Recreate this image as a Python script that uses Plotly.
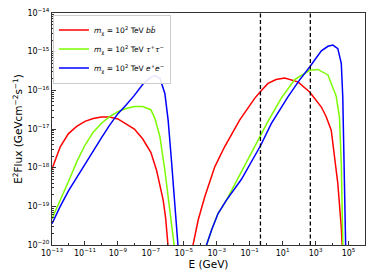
import plotly.graph_objects as go

# ---------------- data ----------------
# low-energy bump, b b-bar
red_lo_E = [1e-13, 3.16e-13, 1e-12, 3.16e-12, 1e-11, 3.16e-11, 1e-10, 3.16e-10, 1e-9,
            3.16e-9, 1e-8, 3.16e-8, 1e-7, 2.24e-7, 5.6e-7, 7.9e-7, 1.12e-6, 1.26e-6]
red_lo_F = [9.3e-19, 3.47e-18, 7.6e-18, 1.17e-17, 1.58e-17, 1.86e-17, 2.04e-17, 2.04e-17, 1.82e-17,
            1.35e-17, 1.0e-17, 5.6e-18, 2.5e-18, 8.5e-19, 1.45e-19, 5.0e-20, 1.0e-20, 5.0e-21]
# high-energy bump, b b-bar
red_hi_E = [3.2e-5, 3.63e-5, 7.4e-5, 1.86e-4, 7.6e-4, 3.0e-3, 2.45e-2, 0.2, 0.47, 1.29, 3.98, 13.2,
            85.0, 437.0, 2240.0, 4470.0, 8900.0, 1.12e4, 2.24e4, 3.63e4, 4.17e4, 4.47e4]
red_hi_F = [5.0e-21, 1.0e-20, 4.37e-20, 1.74e-19, 1.05e-18, 3.47e-18, 1.7e-17, 6.2e-17, 9.5e-17, 1.51e-16,
            1.9e-16, 2.09e-16, 1.66e-16, 9.1e-17, 3.7e-17, 2.04e-17, 9.3e-18, 4.2e-18, 3.9e-19, 2.9e-20,
            1.07e-20, 5.0e-21]

# tau+ tau-
green_lo_E = [1e-13, 3.16e-13, 1e-12, 3.16e-12, 1e-11, 3.16e-11, 1e-10, 3.16e-10, 1e-9, 3.16e-9,
              1e-8, 3.16e-8, 1e-7, 1.78e-7, 3.55e-7, 7.1e-7, 1.41e-6, 2.82e-6, 3.16e-6]
green_lo_F = [4.79e-20, 1.41e-19, 4.37e-19, 1.41e-18, 3.8e-18, 8.3e-18, 1.41e-17, 2.09e-17, 2.82e-17,
              3.39e-17, 3.8e-17, 3.8e-17, 3.16e-17, 1.86e-17, 6.3e-18, 8.5e-19, 7.9e-20, 1.0e-20, 5.0e-21]
green_hi_E = [2.0e-4, 2.4e-4, 4.8e-4, 1.2e-3, 3.9e-3, 3.16e-2, 0.2, 1.29, 8.3, 53.7, 437.0, 1380.0,
              5620.0, 1.78e4, 2.82e4, 3.63e4, 4.47e4, 4.68e4]
green_hi_F = [5.0e-21, 1.0e-20, 2.4e-20, 6.5e-20, 1.45e-19, 7.9e-19, 3.8e-18, 1.58e-17, 6.3e-17, 1.9e-16,
              3.3e-16, 3.47e-16, 2.5e-16, 7.1e-17, 2.0e-17, 1.26e-18, 1.26e-20, 5.0e-21]

# e+ e-
blue_lo_E = [1e-13, 3.16e-13, 1e-12, 3.16e-12, 1e-11, 3.16e-11, 1e-10, 3.16e-10, 1e-9, 3.16e-9,
             1e-8, 3.16e-8, 1e-7, 1.78e-7, 3.55e-7, 7.1e-7, 1.12e-6, 1.78e-6, 2.82e-6, 4.47e-6, 5.0e-6]
blue_lo_F = [3.55e-20, 1.0e-19, 2.5e-19, 5.6e-19, 1.23e-18, 2.69e-18, 5.9e-18, 1.26e-17, 2.5e-17, 4.2e-17,
             7.4e-17, 1.41e-16, 2.19e-16, 2.4e-16, 2.04e-16, 8.3e-17, 1.7e-17, 1.55e-18, 1.45e-19, 1.0e-20,
             5.0e-21]
blue_hi_E = [2.0e-4, 2.4e-4, 4.8e-4, 1.2e-3, 3.9e-3, 3.16e-2, 0.47, 2.04, 20.9, 100.0, 437.0, 2240.0,
             5620.0, 1.12e4, 2.24e4, 3.63e4, 4.47e4, 5.25e4, 6.0e4, 6.6e4, 6.9e4]
blue_hi_F = [5.0e-21, 1.0e-20, 2.4e-20, 6.5e-20, 1.45e-19, 5.0e-19, 3.8e-18, 1.38e-17, 6.8e-17, 1.78e-16,
             4.0e-16, 1.05e-15, 1.38e-15, 1.48e-15, 1.2e-15, 5.0e-16, 6.8e-17, 2.8e-18, 1.0e-19, 1.0e-20,
             5.0e-21]

# vertical dashed reference energies (GeV)
dashed_E = [0.45, 480.0]

series_names = ["<i>m</i><sub>χ</sub> = 10<sup>2</sup> TeV <i>b</i><i>b̄</i>",
                "<i>m</i><sub>χ</sub> = 10<sup>2</sup> TeV <i>τ</i><sup>+</sup><i>τ</i><sup>−</sup>",
                "<i>m</i><sub>χ</sub> = 10<sup>2</sup> TeV <i>e</i><sup>+</sup><i>e</i><sup>−</sup>"]
series_colors = ["#ff0000", "#7cfc00", "#0000ff"]

x_tick_vals = [1e-13, 1e-11, 1e-9, 1e-7, 1e-5, 1e-3, 1e-1, 1e1, 1e3, 1e5]
x_tick_text = ["10<sup>−13</sup>", "10<sup>−11</sup>", "10<sup>−9</sup>", "10<sup>−7</sup>", "10<sup>−5</sup>",
               "10<sup>−3</sup>", "10<sup>−1</sup>", "10<sup>1</sup>", "10<sup>3</sup>", "10<sup>5</sup>"]
y_tick_vals = [1e-20, 1e-19, 1e-18, 1e-17, 1e-16, 1e-15, 1e-14]
y_tick_text = ["10<sup>−20</sup>", "10<sup>−19</sup>", "10<sup>−18</sup>", "10<sup>−17</sup>",
               "10<sup>−16</sup>", "10<sup>−15</sup>", "10<sup>−14</sup>"]

# ---------------- figure ----------------
fig = go.Figure()

curves = [(red_lo_E, red_lo_F, red_hi_E, red_hi_F),
          (green_lo_E, green_lo_F, green_hi_E, green_hi_F),
          (blue_lo_E, blue_lo_F, blue_hi_E, blue_hi_F)]

for i, (lx, ly, hx, hy) in enumerate(curves):
    fig.add_trace(go.Scatter(x=lx, y=ly, mode="lines", name=series_names[i],
                             line=dict(color=series_colors[i], width=1.5),
                             legendgroup=str(i), showlegend=True))
    fig.add_trace(go.Scatter(x=hx, y=hy, mode="lines", name=series_names[i],
                             line=dict(color=series_colors[i], width=1.5),
                             legendgroup=str(i), showlegend=False))

for e in dashed_E:
    fig.add_trace(go.Scatter(x=[e, e], y=[1e-20, 1e-14], mode="lines", showlegend=False,
                             line=dict(color="black", width=1.3, dash="4px,2.5px"), hoverinfo="skip"))

x_minor = [10.0 ** k for k in range(-12, 7, 2)]
y_minor = [m * 10.0 ** k for k in range(-20, -14) for m in range(2, 10)]

fig.update_layout(
    width=374, height=280,
    margin=dict(l=52, r=9, t=13, b=35, autoexpand=False),
    paper_bgcolor="white", plot_bgcolor="white",
    font=dict(family="DejaVu Sans", size=8, color="black"),
    showlegend=True,
    legend=dict(x=0.003, y=0.993, xanchor="left", yanchor="top",
                bgcolor="rgba(255,255,255,0.9)", bordercolor="#cccccc", borderwidth=1,
                font=dict(size=7.5), itemwidth=30, tracegroupgap=0),
)

fig.update_xaxes(type="log", range=[-13, 6], showgrid=False, zeroline=False, automargin=False,
                 showline=True, linecolor="#333333", linewidth=1, mirror=True,
                 ticks="inside", ticklen=4, tickcolor="#333333",
                 tickmode="array", tickvals=x_tick_vals, ticktext=x_tick_text,
                 tickfont=dict(size=8),
                 minor=dict(ticks="inside", ticklen=2, tickcolor="#333333",
                            tickmode="array", tickvals=x_minor, showgrid=False),
                 title=dict(text="E (GeV)", font=dict(size=10.5), standoff=4))
fig.update_yaxes(type="log", range=[-20, -14], showgrid=False, zeroline=False, automargin=False,
                 showline=True, linecolor="#333333", linewidth=1, mirror=True,
                 ticks="inside", ticklen=4, tickcolor="#333333",
                 tickmode="array", tickvals=y_tick_vals, ticktext=y_tick_text,
                 tickfont=dict(size=8),
                 minor=dict(ticks="inside", ticklen=2, tickcolor="#333333",
                            tickmode="array", tickvals=y_minor, showgrid=False),
                 title=dict(text="E<sup>2</sup>Flux (GeVcm<sup>−2</sup>s<sup>−1</sup>)",
                            font=dict(size=10.5), standoff=2))

fig.write_html("out.html", config={"displayModeBar": False},
               post_script="document.body.style.margin='0';document.body.style.padding='0';")
